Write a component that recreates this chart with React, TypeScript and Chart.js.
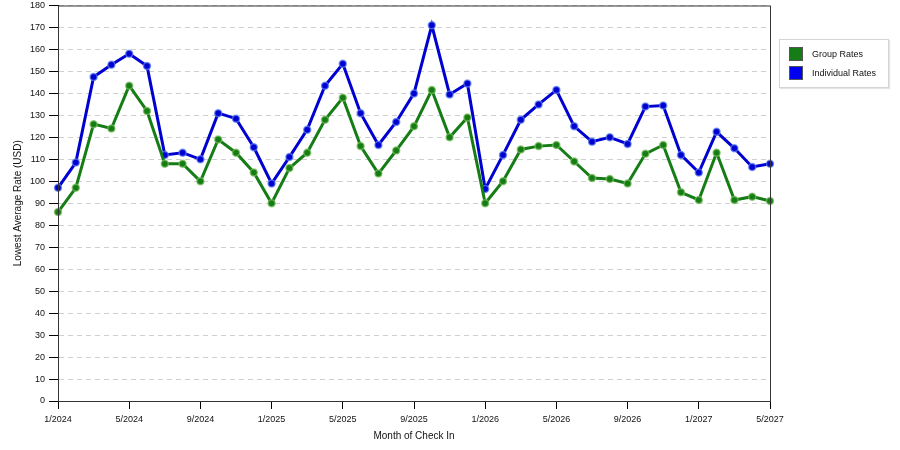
import React, { useEffect, useRef } from 'react';
import { Chart, registerables } from 'chart.js';

Chart.register(...registerables);

// Month of check in, one entry per data point
const months = [
  '1/2024', '2/2024', '3/2024', '4/2024', '5/2024', '6/2024', '7/2024', '8/2024', '9/2024', '10/2024', '11/2024', '12/2024',
  '1/2025', '2/2025', '3/2025', '4/2025', '5/2025', '6/2025', '7/2025', '8/2025', '9/2025', '10/2025', '11/2025', '12/2025',
  '1/2026', '2/2026', '3/2026', '4/2026', '5/2026', '6/2026', '7/2026', '8/2026', '9/2026', '10/2026', '11/2026', '12/2026',
  '1/2027', '2/2027', '3/2027', '4/2027', '5/2027',
];

// Only these months get a label on the x axis
const xTickLabels = ['1/2024', '5/2024', '9/2024', '1/2025', '5/2025', '9/2025', '1/2026', '5/2026', '9/2026', '1/2027', '5/2027'];

const groupRates = [
  86, 97, 126, 124, 143.5, 132, 108, 108, 100, 119, 113, 104,
  90, 106, 113, 128, 138, 116, 103.5, 114, 125, 141.5, 120, 129,
  90, 100, 114.5, 116, 116.5, 109, 101.5, 101, 99, 112.5, 116.5, 95,
  91.5, 113, 91.5, 93, 91,
];

const individualRates = [
  97, 108.5, 147.5, 153, 158, 152.5, 112, 113, 110, 131, 128.5, 115.5,
  99, 111, 123.5, 143.5, 153.5, 131, 116.5, 127, 140, 171, 139.5, 144.5,
  96.5, 112, 128, 135, 141.5, 125, 118, 120, 117, 134, 134.5, 112,
  104, 122.5, 115, 106.5, 108,
];

const GREEN = '#167d16';
const BLUE = '#0000d0';
const FONT = 'Liberation Sans, Arial, sans-serif';
const TEXT = '#111';

// black frame round the plot area
const framePlugin = {
  id: 'frame',
  afterDraw(chart: Chart) {
    const { ctx, chartArea } = chart;
    ctx.save();
    ctx.strokeStyle = '#333';
    ctx.lineWidth = 1;
    ctx.strokeRect(chartArea.left + 0.5, chartArea.top + 0.5, chartArea.right - chartArea.left, chartArea.bottom - chartArea.top);
    ctx.restore();
  },
};

const App: React.FC = () => {
  const canvasRef = useRef<HTMLCanvasElement | null>(null);
  const chartRef = useRef<Chart | null>(null);

  useEffect(() => {
    if (!canvasRef.current) return;
    if (chartRef.current) chartRef.current.destroy();

    chartRef.current = new Chart(canvasRef.current, {
      type: 'line',
      data: {
        labels: months,
        datasets: [
          {
            label: 'Group Rates',
            data: groupRates,
            borderColor: GREEN,
            borderWidth: 3,
            pointRadius: 3.5,
            pointBackgroundColor: GREEN,
            pointBorderColor: 'rgba(120,190,90,0.7)',
            pointBorderWidth: 1.5,
            tension: 0,
          },
          {
            label: 'Individual Rates',
            data: individualRates,
            borderColor: BLUE,
            borderWidth: 3,
            pointRadius: 3.5,
            pointBackgroundColor: BLUE,
            pointBorderColor: 'rgba(90,130,240,0.7)',
            pointBorderWidth: 1.5,
            tension: 0,
          },
        ],
      },
      options: {
        responsive: false,
        animation: false,
        layout: { padding: { top: 0, right: 130, left: 0, bottom: 0 } },
        plugins: {
          legend: { display: false },
          tooltip: { enabled: false },
        },
        scales: {
          x: {
            type: 'category',
            offset: false,
            afterFit: (scale: any) => { scale.height = 49; },
            grid: {
              drawOnChartArea: false,
              drawTicks: true,
              tickLength: 8,
              tickColor: (c: any) => (xTickLabels.includes(months[c.index]) ? '#000' : 'rgba(0,0,0,0)'),
            },
            border: { display: true, color: '#000', width: 1 },
            ticks: {
              autoSkip: false,
              maxRotation: 0,
              padding: 5,
              color: TEXT,
              font: { family: FONT, size: 9 },
              callback: (_v: any, i: number) => (xTickLabels.includes(months[i]) ? months[i] : ''),
            },
            title: {
              display: true,
              text: 'Month of Check In',
              color: TEXT,
              font: { family: FONT, size: 10 },
              padding: { top: 0, bottom: 8 },
            },
          },
          y: {
            min: 0,
            max: 180,
            afterFit: (scale: any) => {
              scale.width = 58;
              scale.paddingTop = 5;
              scale.paddingBottom = 0;
            },
            grid: {
              color: '#cfcfcf',
              tickColor: '#000',
              tickLength: 9,
              tickBorderDash: [],
            },
            border: { display: true, color: '#000', width: 1, dash: [5, 4] },
            ticks: {
              stepSize: 10,
              padding: 4,
              color: TEXT,
              font: { family: FONT, size: 9 },
            },
            title: {
              display: true,
              text: 'Lowest Average Rate (USD)',
              color: TEXT,
              font: { family: FONT, size: 10 },
              padding: { top: 12, bottom: 0 },
            },
          },
        },
      },
      plugins: [framePlugin],
    });

    return () => {
      if (chartRef.current) {
        chartRef.current.destroy();
        chartRef.current = null;
      }
    };
  }, []);

  const legendItems = [
    { label: 'Group Rates', color: GREEN },
    { label: 'Individual Rates', color: '#0000f0' },
  ];

  return (
    <div style={{ position: 'absolute', left: 0, top: 0, width: 900, height: 450, background: '#fff' }}>
      <canvas ref={canvasRef} width={900} height={450} />
      <div
        style={{
          position: 'absolute',
          left: 779,
          top: 39,
          width: 108,
          height: 47,
          border: '1px solid #d4d4d4',
          boxShadow: '1px 1px 1px #e4e4e4',
          background: '#fff',
          fontFamily: FONT,
          fontSize: 9,
          color: TEXT,
        }}
      >
        {legendItems.map((item, i) => (
          <div key={item.label} style={{ position: 'absolute', left: 9, top: 7 + i * 19, display: 'flex', alignItems: 'center' }}>
            <span style={{ display: 'inline-block', width: 12, height: 12, background: item.color, border: '1px solid #555', marginRight: 9 }} />
            <span>{item.label}</span>
          </div>
        ))}
      </div>
    </div>
  );
};

export default App;
